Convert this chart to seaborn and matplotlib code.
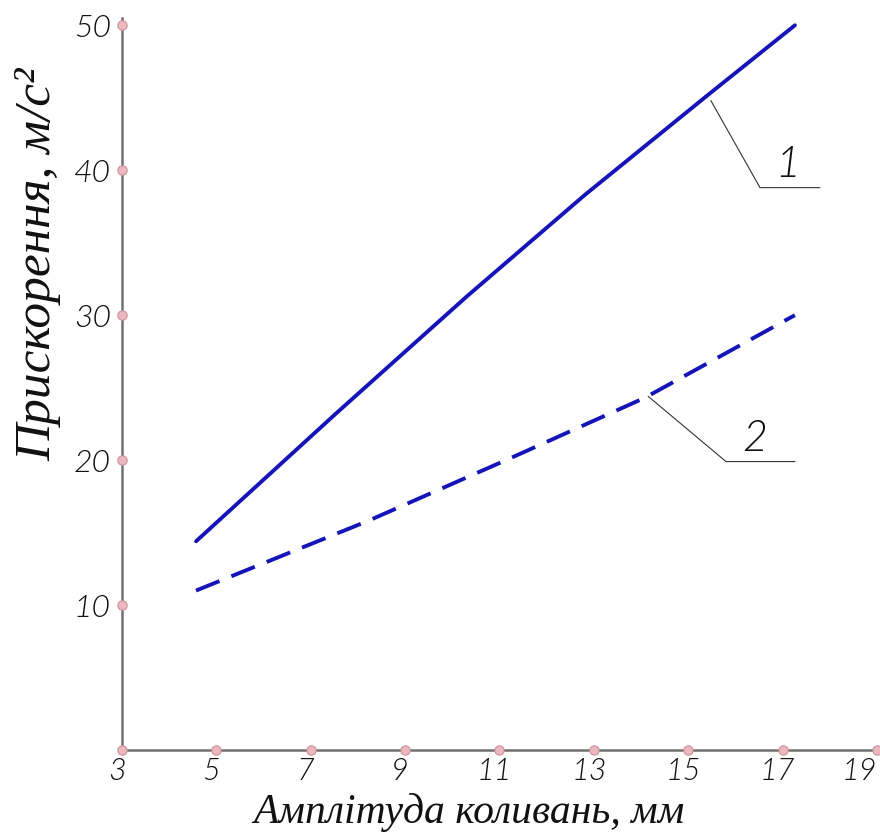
import numpy as np
import pandas as pd
import matplotlib
matplotlib.use("Agg")
import matplotlib.pyplot as plt
import matplotlib.transforms as mtransforms
import seaborn as sns

# значення
amp_1 = [4.57, 7.53, 10.31, 12.81, 15.42, 17.26]
acc_1 = [14.4, 23.2, 31.3, 38.3, 45.2, 50.0]
amp_2 = [4.57, 8.21, 11.14, 14.08, 17.26]
acc_2 = [11.0, 15.8, 20.0, 24.3, 30.0]

x_ticks = [3, 5, 7, 9, 11, 13, 15, 17, 19]
y_ticks = [10, 20, 30, 40, 50]

# виноски (ламана лінія + номер кривої)
lead_1_x = [15.48, 16.52, 17.79]
lead_1_y = [44.8, 38.8, 38.8]
lead_2_x = [14.15, 15.80, 17.26]
lead_2_y = [24.4, 19.9, 19.9]
label_1 = (17.1, 40.3, "1")
label_2 = (16.4, 21.4, "2")

df1 = pd.DataFrame({"amp": amp_1, "acc": acc_1})
df2 = pd.DataFrame({"amp": amp_2, "acc": acc_2})

sns.set_theme(style="white")
plt.rcParams["font.family"] = ["Lato", "DejaVu Sans"]

fig = plt.figure(figsize=(8.8, 8.35), dpi=100)
ax = fig.add_axes([0.1386, 0.1018, 0.8580, 0.8766])

blue = "#1414b8"
sns.lineplot(data=df1, x="amp", y="acc", ax=ax, color=blue, lw=2.8)
sns.lineplot(data=df2, x="amp", y="acc", ax=ax, color=blue, lw=2.8)
ax.lines[-1].set_dashes((6.5, 3.3))

ax.plot(lead_1_x, lead_1_y, color="#333333", lw=0.8)
ax.plot(lead_2_x, lead_2_y, color="#333333", lw=0.8)
for (tx, ty, s) in [label_1, label_2]:
    ax.text(tx, ty, s, fontsize=31, fontstyle="italic", fontweight=300,
            ha="center", va="center", color="#111111")

ax.set_xlim(3, 19)
ax.set_ylim(0, 50.5)
ax.set_xticks(x_ticks)
ax.set_yticks(y_ticks)
ax.set_xticklabels([str(t) for t in x_ticks], fontsize=22, fontstyle="italic",
                   fontweight=300, color="#111111")
ax.set_yticklabels([str(t) for t in y_ticks], fontsize=23, fontstyle="italic",
                   fontweight=300, color="#111111")
ax.tick_params(axis="x", length=0, pad=5)
ax.tick_params(axis="y", length=0, pad=8)
# курсивні підписи трохи зсунуті вліво, як у кресленні
for i, lbl in enumerate(ax.get_xticklabels()):
    dx = -18 if i == len(x_ticks) - 1 else -5
    lbl.set_transform(lbl.get_transform() +
                      mtransforms.ScaledTranslation(dx / 100, 0, fig.dpi_scale_trans))

# маркери поділок
ax.scatter(x_ticks, [0] * len(x_ticks), s=45, facecolor="#eab9c0", edgecolor="#cf8f99",
           lw=0.8, zorder=5, clip_on=False)
ax.scatter([3] * len(y_ticks), y_ticks, s=45, facecolor="#eab9c0", edgecolor="#cf8f99",
           lw=0.8, zorder=5, clip_on=False)

sns.despine(ax=ax)
for side in ["left", "bottom"]:
    ax.spines[side].set_color("#707070")
    ax.spines[side].set_linewidth(1.8)

ax.set_xlabel("Амплітуда коливань, мм", family="Liberation Serif", fontstyle="italic",
              fontsize=30, color="#111111", va="center")
ax.xaxis.set_label_coords(0.46, -0.085)
ax.set_ylabel("Прискорення, м/с²", family="Liberation Serif", fontstyle="italic",
              fontsize=37, color="#111111", va="center")
ax.yaxis.set_label_coords(-0.111, 0.663)

fig.savefig("out.png", dpi=100)
